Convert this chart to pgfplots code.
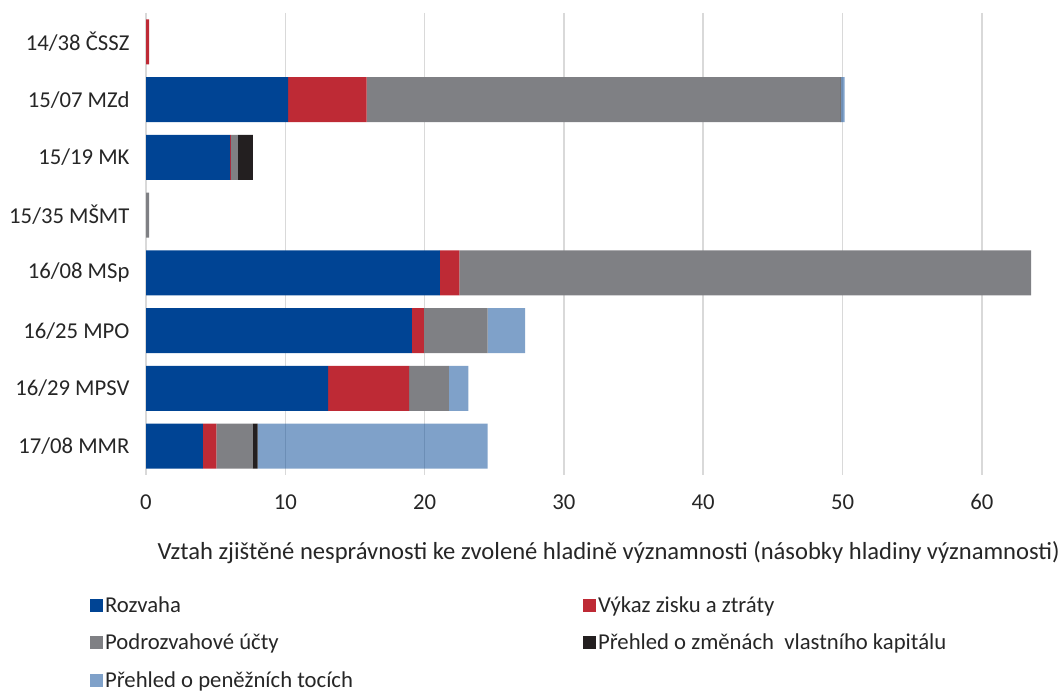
\documentclass[border=0pt]{standalone}
\usepackage{pgfplots}
\pgfplotsset{compat=1.18}
\usepackage{fontspec}
\setmainfont{Carlito}
\definecolor{cblue}{HTML}{004494}
\definecolor{cred}{HTML}{BE2A35}
\definecolor{cgrey}{HTML}{7F8084}
\definecolor{cblack}{HTML}{231F20}
\definecolor{ctext}{HTML}{262626}
\definecolor{cgrid}{HTML}{D9D9D9}
\begin{document}
\begin{tikzpicture}
\path[use as bounding box] (0pt,0pt) rectangle (1059pt,695pt);
\begin{axis}[
  at={(146pt,220pt)}, anchor=south west,
  scale only axis,
  width=919.4pt, height=462pt,
  xbar stacked,
  bar width=45pt,
  xmin=0, xmax=66,
  ymin=-0.5, ymax=7.5,
  y dir=reverse,
  axis line style={draw=none},
  xmajorgrids,
  grid style={cgrid, line width=1.5pt},
  xtick={0,10,20,30,40,50,60},
  ytick={0,1,2,3,4,5,6,7},
  yticklabels={14/38 ČSSZ, 15/07 MZd, 15/19 MK, 15/35 MŠMT, 16/08 MSp, 16/25 MPO, 16/29 MPSV, 17/08 MMR},
  tick style={draw=none},
  tick label style={font=\fontsize{22.7}{25}\selectfont, text=ctext},
  /pgf/number format/assume math mode=true,
  yticklabel style={xshift=-13pt},
  xticklabel style={yshift=-16pt},
  xlabel={Vztah zjištěné nesprávnosti ke zvolené hladině významnosti (násobky hladiny významnosti)},
  xlabel style={font=\fontsize{24.6}{27}\selectfont, text=ctext, yshift=-25pt, xshift=3pt},
  legend columns=2,
  legend cell align=left,
  legend image code/.code={\fill[#1] (0pt,-6.5pt) rectangle (13pt,6.5pt);},
  legend style={at={(axis description cs:-0.061,-0.258)}, anchor=north west, draw=none, fill=none,
    font=\fontsize{22.7}{25}\selectfont, text=ctext, inner sep=0pt, row sep=16.5pt,
    nodes={inner xsep=2pt, inner ysep=2pt}},
]
\addplot[fill=cblue, draw=none] coordinates {(0,0) (10.2,1) (6.03,2) (0,3) (21.1,4) (19.09,5) (13.07,6) (4.09,7)};
\addlegendentry{\makebox[476pt][l]{Rozvaha}}
\addplot[fill=cred, draw=none] coordinates {(0.22,0) (5.64,1) (0.06,2) (0,3) (1.39,4) (0.86,5) (5.81,6) (0.96,7)};
\addlegendentry{Výkaz zisku a ztráty}
\addplot[fill=cgrey, draw=none] coordinates {(0,0) (34.0,1) (0.5,2) (0.22,3) (41.04,4) (4.58,5) (2.87,6) (2.63,7)};
\addlegendentry{\makebox[476pt][l]{Podrozvahové účty}}
\addplot[fill=cblack, draw=none] coordinates {(0,0) (0.06,1) (1.08,2) (0,3) (0,4) (0,5) (0,6) (0.34,7)};
\addlegendentry{Přehled o změnách\ \ vlastního kapitálu}
\addplot[fill=cblue, fill opacity=0.5, draw=none] coordinates {(0,0) (0.25,1) (0,2) (0,3) (0,4) (2.68,5) (1.39,6) (16.51,7)};
\addlegendentry{\makebox[476pt][l]{Přehled o peněžních tocích}}
\end{axis}
\end{tikzpicture}
\end{document}
